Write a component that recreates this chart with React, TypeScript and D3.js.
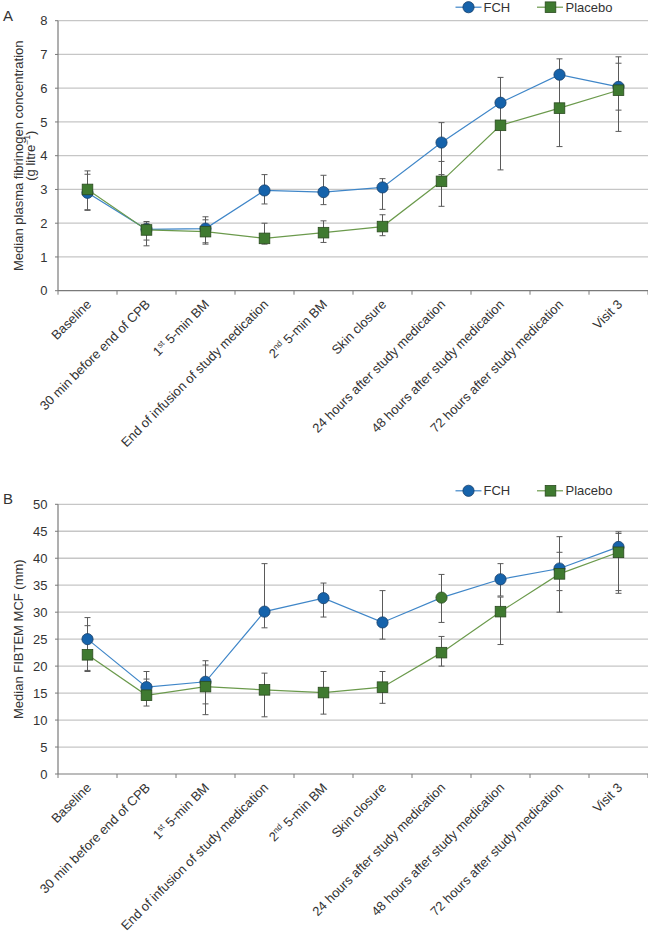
import React from "react";
import * as d3 from "d3";

const categories = [
  "Baseline",
  "30 min before end of CPB",
  "1st 5-min BM",
  "End of infusion of study medication",
  "2nd 5-min BM",
  "Skin closure",
  "24 hours after study medication",
  "48 hours after study medication",
  "72 hours after study medication",
  "Visit 3",
];

const seriesNames = ["FCH", "Placebo"];

// Panel A: median plasma fibrinogen (g/L) with ranges
const fibFCH = [2.9, 1.82, 1.84, 2.97, 2.92, 3.06, 4.39, 5.57, 6.4, 6.04];
const fibFCHLo = [2.4, 1.5, 1.42, 2.57, 2.55, 2.41, 3.44, 4.9, 5.45, 5.35];
const fibFCHHi = [3.45, 2.05, 2.19, 3.44, 3.42, 3.32, 4.98, 6.32, 6.87, 6.93];
const fibPla = [3.0, 1.8, 1.75, 1.55, 1.72, 1.9, 3.24, 4.9, 5.41, 5.94];
const fibPlaLo = [2.38, 1.33, 1.38, 1.38, 1.43, 1.63, 2.5, 3.58, 4.27, 4.72];
const fibPlaHi = [3.55, 2.0, 2.1, 2.0, 2.07, 2.25, 3.83, 5.5, 6.35, 6.74];
const fibTicks = [0, 1, 2, 3, 4, 5, 6, 7, 8];

// Panel B: median FIBTEM MCF (mm) with ranges
const mcfFCH = [25, 16.1, 17.1, 30.1, 32.6, 28.1, 32.7, 36.1, 38.1, 42.1];
const mcfFCHLo = [19.2, 13.7, 13.0, 27.1, 29.1, 25.0, 28.1, 33.0, 34.0, 34.0];
const mcfFCHHi = [29, 19, 21, 39, 35.4, 34, 37, 39, 44, 44.9];
const mcfPla = [22.1, 14.6, 16.2, 15.6, 15.1, 16.1, 22.5, 30.1, 37.1, 41.1];
const mcfPlaLo = [19.0, 12.6, 11.0, 10.6, 11.1, 13.1, 20.0, 24.0, 30.0, 33.5];
const mcfPlaHi = [27.5, 17.6, 20.2, 18.7, 19.0, 19.0, 25.5, 32.8, 41.1, 44.6];
const mcfTicks = [0, 5, 10, 15, 20, 25, 30, 35, 40, 45, 50];
// In the original, the FCH marker at "24 hours after" in panel B is drawn green
const mcfFCHGreenIdx = [6];

const FONT = "'Liberation Sans', Arial, Helvetica, sans-serif";
const FCH_LINE = "#3f86c8";
const FCH_FILL = "#1663ab";
const FCH_STROKE = "#173f6a";
const PLA_LINE = "#6b9a4c";
const PLA_FILL = "#3f7a30";
const PLA_STROKE = "#2a4a1f";
const GRID = "#c6c6c6";
const AXIS = "#7a7a7a";
const ERR = "#5a5a5a";
const TEXT = "#333";

type PanelProps = {
  letter: string;
  top: number;
  bottom: number;
  ticks: number[];
  yLabel: React.ReactNode;
  fch: number[];
  fchLo: number[];
  fchHi: number[];
  pla: number[];
  plaLo: number[];
  plaHi: number[];
  greenIdx?: number[];
};

function CatLabel({ text }: { text: string }) {
  const m = text.match(/^(\d)(st|nd|rd|th) (.*)$/);
  if (!m) return <>{text}</>;
  return (
    <>
      {m[1]}
      <tspan fontSize={8.5} dy={-4.5}>
        {m[2]}
      </tspan>
      <tspan dy={4.5}>{" " + m[3]}</tspan>
    </>
  );
}

function Panel(p: PanelProps) {
  const x0 = 58;
  const x1 = 648;
  const x = d3.scaleBand<string>().domain(categories).range([x0, x1]);
  const cx = (c: string) => (x(c) as number) + x.bandwidth() / 2;
  const yMax = p.ticks[p.ticks.length - 1];
  const y = d3.scaleLinear().domain([0, yMax]).range([p.bottom, p.top]);
  const line = d3
    .line<number>()
    .x((_, i) => cx(categories[i]))
    .y((v) => y(v));
  const boundaries = d3.range(categories.length + 1).map((i) => x0 + i * x.bandwidth());
  const cap = 3;
  const legendY = p.top - 13.5;
  const errs = [
    { lo: p.fchLo, hi: p.fchHi },
    { lo: p.plaLo, hi: p.plaHi },
  ];
  return (
    <g>
      <text x={3} y={p.top} fontSize={15} fill={TEXT} fontFamily={FONT}>
        {p.letter}
      </text>
      {/* grid */}
      {p.ticks.map((t) =>
        t === 0 ? null : (
          <line key={t} x1={x0} x2={x1} y1={y(t)} y2={y(t)} stroke={GRID} strokeWidth={1.3} />
        )
      )}
      {/* y ticks + labels */}
      {p.ticks.map((t) => (
        <g key={"yt" + t}>
          <line x1={x0 - 3} x2={x0} y1={y(t)} y2={y(t)} stroke={AXIS} strokeWidth={1} />
          <text
            x={x0 - 10.5}
            y={y(t)}
            dy="0.36em"
            textAnchor="end"
            fontSize={13}
            fill={TEXT}
            fontFamily={FONT}
          >
            {t}
          </text>
        </g>
      ))}
      {/* axes */}
      <line x1={x0} x2={x0} y1={p.top} y2={p.bottom} stroke={AXIS} strokeWidth={1.2} />
      <line x1={x0} x2={x1} y1={p.bottom} y2={p.bottom} stroke={AXIS} strokeWidth={1.2} />
      {boundaries.map((b, i) => (
        <line key={"xt" + i} x1={b} x2={b} y1={p.bottom} y2={p.bottom + 4} stroke={AXIS} strokeWidth={1} />
      ))}
      {/* category labels */}
      {categories.map((c) => (
        <text
          key={c}
          transform={`translate(${cx(c) + 4.5},${p.bottom + 14.5}) rotate(-45)`}
          textAnchor="end"
          fontSize={13}
          fill={TEXT}
          fontFamily={FONT}
        >
          <CatLabel text={c} />
        </text>
      ))}
      {/* y label */}
      {p.yLabel}
      {/* error bars */}
      {errs.map((e, si) =>
        categories.map((c, i) => (
          <g key={"e" + si + i} stroke={ERR} strokeWidth={1}>
            <line x1={cx(c)} x2={cx(c)} y1={y(e.lo[i])} y2={y(e.hi[i])} />
            <line x1={cx(c) - cap} x2={cx(c) + cap} y1={y(e.lo[i])} y2={y(e.lo[i])} />
            <line x1={cx(c) - cap} x2={cx(c) + cap} y1={y(e.hi[i])} y2={y(e.hi[i])} />
          </g>
        ))
      )}
      {/* FCH */}
      <path d={line(p.fch) as string} fill="none" stroke={FCH_LINE} strokeWidth={1.2} />
      {p.fch.map((v, i) => {
        const green = (p.greenIdx || []).includes(i);
        return (
          <circle
            key={"fc" + i}
            cx={cx(categories[i])}
            cy={y(v)}
            r={5.6}
            fill={green ? PLA_FILL : FCH_FILL}
            stroke={green ? PLA_STROKE : FCH_STROKE}
            strokeWidth={0.8}
          />
        );
      })}
      {/* Placebo */}
      <path d={line(p.pla) as string} fill="none" stroke={PLA_LINE} strokeWidth={1.2} />
      {p.pla.map((v, i) => (
        <rect
          key={"pl" + i}
          x={cx(categories[i]) - 5.3}
          y={y(v) - 5.3}
          width={10.6}
          height={10.6}
          fill={PLA_FILL}
          stroke={PLA_STROKE}
          strokeWidth={0.8}
        />
      ))}
      {/* legend */}
      <g fontFamily={FONT} fontSize={13} fill={TEXT}>
        <line x1={455.5} x2={481.5} y1={legendY} y2={legendY} stroke={FCH_LINE} strokeWidth={1.2} />
        <circle cx={468.5} cy={legendY} r={5.6} fill={FCH_FILL} stroke={FCH_STROKE} strokeWidth={0.8} />
        <text x={483.5} y={legendY} dy="0.36em">
          {seriesNames[0]}
        </text>
        <line x1={537} x2={563} y1={legendY} y2={legendY} stroke={PLA_LINE} strokeWidth={1.2} />
        <rect x={545.2} y={legendY - 5.3} width={10.6} height={10.6} fill={PLA_FILL} stroke={PLA_STROKE} strokeWidth={0.8} />
        <text x={565.5} y={legendY} dy="0.36em">
          {seriesNames[1]}
        </text>
      </g>
    </g>
  );
}

export default function App() {
  const aTop = 20.7;
  const aBottom = 290.7;
  const bTop = 504.3;
  const bBottom = 774;
  const aMid = (aTop + aBottom) / 2;
  const bMid = (bTop + bBottom) / 2;
  return (
    <svg
      width={648}
      height={937}
      style={{ position: "absolute", left: 0, top: 0, background: "#fff" }}
      fontFamily={FONT}
    >
      <rect width={648} height={937} fill="#fff" />
      <Panel
        letter="A"
        top={aTop}
        bottom={aBottom}
        ticks={fibTicks}
        fch={fibFCH}
        fchLo={fibFCHLo}
        fchHi={fibFCHHi}
        pla={fibPla}
        plaLo={fibPlaLo}
        plaHi={fibPlaHi}
        yLabel={
          <g fontSize={13} fill={TEXT} textAnchor="middle" fontFamily={FONT}>
            <text transform={`translate(22.5,${aMid}) rotate(-90)`}>
              Median plasma fibrinogen concentration
            </text>
            <text transform={`translate(34.5,${aMid}) rotate(-90)`}>
              (g litre
              <tspan fontSize={8.5} dy={-5}>
                −1
              </tspan>
              <tspan dy={5}>)</tspan>
            </text>
          </g>
        }
      />
      <Panel
        letter="B"
        top={bTop}
        bottom={bBottom}
        ticks={mcfTicks}
        fch={mcfFCH}
        fchLo={mcfFCHLo}
        fchHi={mcfFCHHi}
        pla={mcfPla}
        plaLo={mcfPlaLo}
        plaHi={mcfPlaHi}
        greenIdx={mcfFCHGreenIdx}
        yLabel={
          <g fontSize={13} fill={TEXT} textAnchor="middle" fontFamily={FONT}>
            <text transform={`translate(22.5,${bMid}) rotate(-90)`}>Median FIBTEM MCF (mm)</text>
          </g>
        }
      />
    </svg>
  );
}
